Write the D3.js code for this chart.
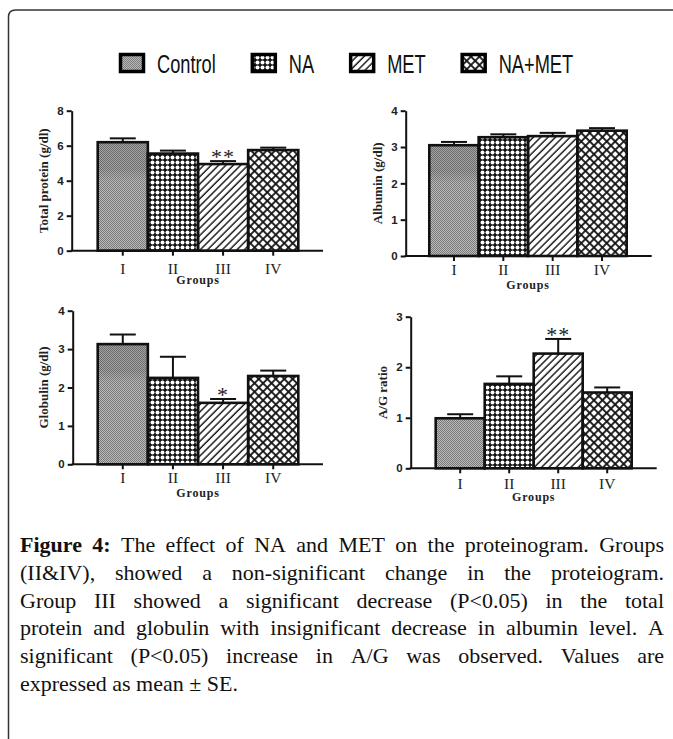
<!DOCTYPE html>
<html>
<head>
<meta charset="utf-8">
<script src="https://cdn.jsdelivr.net/npm/d3@7"></script>
<style>
  html, body { margin: 0; padding: 0; background: #fff; }
  svg { display: block; }
</style>
</head>
<body>
<svg id="mainsvg" width="673" height="739"></svg>
<script>
// data
const groups = ["I", "II", "III", "IV"];
const treatments = ["Control", "NA", "MET", "NA+MET"];

const totalProtein = [6.2, 5.55, 4.95, 5.75];
const totalProteinSE = [0.22, 0.17, 0.17, 0.14];
const totalProteinSig = ["", "", "**", ""];

const albumin = [3.05, 3.27, 3.3, 3.45];
const albuminSE = [0.09, 0.08, 0.09, 0.07];
const albuminSig = ["", "", "", ""];

const globulin = [3.13, 2.25, 1.6, 2.3];
const globulinSE = [0.25, 0.55, 0.1, 0.14];
const globulinSig = ["", "", "*", ""];

const agRatio = [0.99, 1.67, 2.27, 1.5];
const agRatioSE = [0.08, 0.15, 0.29, 0.1];
const agRatioSig = ["", "", "**", ""];

const totalProteinTicks = [0, 2, 4, 6, 8];
const albuminTicks = [0, 1, 2, 3, 4];
const globulinTicks = [0, 1, 2, 3, 4];
const agRatioTicks = [0, 1, 2, 3];

const captionLines = [
  "Figure 4: The effect of NA and MET on the proteinogram. Groups",
  "(II&IV), showed a non-significant change in the proteiogram.",
  "Group III showed a significant decrease (P<0.05) in the total",
  "protein and globulin with insignificant decrease in albumin level. A",
  "significant (P<0.05) increase in A/G was observed. Values are",
  "expressed as mean ± SE."
];

const svg = d3.select("#mainsvg");
const W = +svg.attr("width");
const H = +svg.attr("height");

svg.append("rect").attr("width", W).attr("height", H).attr("fill", "#fff");

// frame: left + top line with rounded corner
svg.append("path")
  .attr("d", `M8.5,${H} L8.5,17 Q8.5,10 15.5,10 L${W},10`)
  .attr("fill", "none")
  .attr("stroke", "#333")
  .attr("stroke-width", 1.5);

// ---- patterns
const defs = svg.append("defs");

const pCtrl = defs.append("pattern").attr("id", "pat-control")
  .attr("patternUnits", "userSpaceOnUse").attr("width", 2).attr("height", 2);
pCtrl.append("rect").attr("width", 2).attr("height", 2).attr("fill", "#bababa");
pCtrl.append("rect").attr("width", 1).attr("height", 1).attr("fill", "#7a7a7a");
pCtrl.append("rect").attr("x", 1).attr("y", 1).attr("width", 1).attr("height", 1).attr("fill", "#7a7a7a");

const pNa = defs.append("pattern").attr("id", "pat-na")
  .attr("patternUnits", "userSpaceOnUse").attr("width", 5).attr("height", 5);
pNa.append("rect").attr("width", 5).attr("height", 5).attr("fill", "#111");
pNa.append("circle").attr("cx", 2.5).attr("cy", 2.5).attr("r", 2.0).attr("fill", "#fff");

const pMet = defs.append("pattern").attr("id", "pat-met")
  .attr("patternUnits", "userSpaceOnUse").attr("width", 5.2).attr("height", 5.2)
  .attr("patternTransform", "rotate(45)");
pMet.append("rect").attr("width", 5.2).attr("height", 5.2).attr("fill", "#fff");
pMet.append("line").attr("x1", 1).attr("x2", 1).attr("y1", 0).attr("y2", 5.2)
  .attr("stroke", "#111").attr("stroke-width", 1.4);

const pNaMet = defs.append("pattern").attr("id", "pat-namet")
  .attr("patternUnits", "userSpaceOnUse").attr("width", 6).attr("height", 6)
  .attr("patternTransform", "rotate(45)");
pNaMet.append("rect").attr("width", 6).attr("height", 6).attr("fill", "#fff");
pNaMet.append("line").attr("x1", 1).attr("x2", 1).attr("y1", 0).attr("y2", 6)
  .attr("stroke", "#111").attr("stroke-width", 1.8);
pNaMet.append("line").attr("y1", 1).attr("y2", 1).attr("x1", 0).attr("x2", 6)
  .attr("stroke", "#111").attr("stroke-width", 1.8);

// darker top band seen on the control bars
const grad = defs.append("linearGradient").attr("id", "ctrl-shade")
  .attr("x1", 0).attr("x2", 0).attr("y1", 0).attr("y2", 1);
grad.append("stop").attr("offset", "0%").attr("stop-color", "#000").attr("stop-opacity", 0.12);
grad.append("stop").attr("offset", "70%").attr("stop-color", "#000").attr("stop-opacity", 0.12);
grad.append("stop").attr("offset", "100%").attr("stop-color", "#000").attr("stop-opacity", 0);

const fills = d3.scaleOrdinal()
  .domain(treatments)
  .range(["url(#pat-control)", "url(#pat-na)", "url(#pat-met)", "url(#pat-namet)"]);

// ---- legend
const legend = svg.append("g");
let lx = 119;
treatments.forEach(t => {
  legend.append("rect")
    .attr("x", lx + 1.5).attr("y", 54.5)
    .attr("width", 23).attr("height", 17)
    .attr("fill", fills(t))
    .attr("stroke", "#000").attr("stroke-width", 3.5);
  const tg = legend.append("g").attr("transform", `translate(${lx + 38},72.5) scale(0.73,1)`);
  const txt = tg.append("text")
    .attr("font-family", "Liberation Sans, Arial, sans-serif")
    .attr("font-size", 25)
    .attr("fill", "#111")
    .text(t);
  lx += 38 + txt.node().getComputedTextLength() * 0.73 + 35;
});

// ---- panels
const panels = [
  { values: totalProtein, se: totalProteinSE, sig: totalProteinSig, ticks: totalProteinTicks,
    label: "Total protein (g/dl)", left: 71.7, right: 323, bars: [97.7, 298.3], y0: 250.7, y1: 110.7,
    labelX: 48, tickPad: 7 },
  { values: albumin, se: albuminSE, sig: albuminSig, ticks: albuminTicks,
    label: "Albumin (g/dl)", left: 405.7, right: 651.7, bars: [429.3, 626.7], y0: 256, y1: 110.7,
    labelX: 381.7, tickPad: 3 },
  { values: globulin, se: globulinSE, sig: globulinSig, ticks: globulinTicks,
    label: "Globulin (g/dl)", left: 72.7, right: 323, bars: [97.7, 298.3], y0: 464.3, y1: 310.7,
    labelX: 48, tickPad: 3 },
  { values: agRatio, se: agRatioSE, sig: agRatioSig, ticks: agRatioTicks,
    label: "A/G ratio", left: 410.7, right: 656.7, bars: [435.7, 631.7], y0: 468.3, y1: 316.7,
    labelX: 386.7, tickPad: 5 }
];

panels.forEach(p => {
  const g = svg.append("g");

  const x = d3.scaleBand().domain(groups).range(p.bars).paddingInner(0).paddingOuter(0);
  const y = d3.scaleLinear().domain([0, d3.max(p.ticks)]).range([p.y0, p.y1]);

  // bars
  const rows = groups.map((grp, i) => ({ grp, t: treatments[i], v: p.values[i], se: p.se[i], sig: p.sig[i] }));

  g.selectAll("rect.bar")
    .data(rows)
    .join("rect")
    .attr("class", "bar")
    .attr("x", d => x(d.grp))
    .attr("y", d => y(d.v))
    .attr("width", x.bandwidth())
    .attr("height", d => y(0) - y(d.v))
    .attr("fill", d => fills(d.t));

  g.selectAll("rect.shade")
    .data(rows.filter(d => d.t === "Control" && y(0) - y(d.v) > 60))
    .join("rect")
    .attr("class", "shade")
    .attr("x", d => x(d.grp))
    .attr("y", d => y(d.v))
    .attr("width", x.bandwidth())
    .attr("height", 38)
    .attr("fill", "url(#ctrl-shade)");

  g.selectAll("rect.outline")
    .data(rows)
    .join("rect")
    .attr("class", "outline")
    .attr("x", d => x(d.grp))
    .attr("y", d => y(d.v))
    .attr("width", x.bandwidth())
    .attr("height", d => y(0) - y(d.v))
    .attr("fill", "none")
    .attr("stroke", "#111")
    .attr("stroke-width", 2.6);

  // error bars (upper only)
  const cx = d => x(d.grp) + x.bandwidth() / 2;
  g.selectAll("line.err")
    .data(rows)
    .join("line")
    .attr("class", "err")
    .attr("x1", cx).attr("x2", cx)
    .attr("y1", d => y(d.v)).attr("y2", d => y(d.v + d.se))
    .attr("stroke", "#111").attr("stroke-width", 2);
  g.selectAll("line.cap")
    .data(rows)
    .join("line")
    .attr("class", "cap")
    .attr("x1", d => cx(d) - 13).attr("x2", d => cx(d) + 13)
    .attr("y1", d => y(d.v + d.se)).attr("y2", d => y(d.v + d.se))
    .attr("stroke", "#111").attr("stroke-width", 2);

  // significance marks
  g.selectAll("text.sig")
    .data(rows.filter(d => d.sig))
    .join("text")
    .attr("class", "sig")
    .attr("x", cx)
    .attr("y", d => y(d.v + d.se) + 3)
    .attr("text-anchor", "middle")
    .attr("font-family", "Liberation Serif, Times New Roman, serif")
    .attr("font-size", 22)
    .attr("letter-spacing", 1)
    .attr("fill", "#222")
    .text(d => d.sig);

  // y axis
  const yAxis = g.append("g")
    .attr("transform", `translate(${p.left},0)`)
    .call(d3.axisLeft(y).tickValues(p.ticks).tickFormat(d3.format("d"))
      .tickSize(5).tickSizeOuter(0).tickPadding(3));
  yAxis.select(".domain").attr("stroke", "#111").attr("stroke-width", 2);
  yAxis.selectAll(".tick line").attr("stroke", "#111").attr("stroke-width", 2);
  yAxis.selectAll(".tick text")
    .attr("font-family", "Liberation Sans, Arial, sans-serif")
    .attr("font-weight", "bold")
    .attr("font-size", 11.5)
    .attr("fill", "#222");

  // x axis
  const xAxis = g.append("g")
    .attr("transform", `translate(0,${p.y0})`)
    .call(d3.axisBottom(x).tickSize(5).tickSizeOuter(0).tickPadding(p.tickPad));
  xAxis.select(".domain").remove();
  xAxis.selectAll(".tick line").attr("stroke", "#111").attr("stroke-width", 2);
  xAxis.selectAll(".tick text")
    .attr("font-family", "Liberation Serif, Times New Roman, serif")
    .attr("font-size", 15.5)
    .attr("fill", "#222");
  g.append("line")
    .attr("x1", p.left - 1).attr("x2", p.right)
    .attr("y1", p.y0).attr("y2", p.y0)
    .attr("stroke", "#111").attr("stroke-width", 2);

  // axis titles
  g.append("text")
    .attr("transform", `translate(${p.labelX},${(p.y0 + p.y1) / 2}) rotate(-90)`)
    .attr("text-anchor", "middle")
    .attr("font-family", "Liberation Serif, Times New Roman, serif")
    .attr("font-weight", "bold")
    .attr("font-size", 13)
    .attr("fill", "#222")
    .text(p.label);

  g.append("text")
    .attr("x", (p.bars[0] + p.bars[1]) / 2)
    .attr("y", p.y0 + 33)
    .attr("text-anchor", "middle")
    .attr("font-family", "Liberation Serif, Times New Roman, serif")
    .attr("font-weight", "bold")
    .attr("font-size", 12)
    .attr("letter-spacing", 0.8)
    .attr("fill", "#222")
    .text("Groups");
});

// ---- caption, justified
const cap = svg.append("g")
  .attr("font-family", "Liberation Serif, Times New Roman, serif")
  .attr("font-size", 22)
  .attr("fill", "#111");
const capLeft = 20, capRight = 664, capTop = 552, capStep = 27.8;

captionLines.forEach((line, li) => {
  const words = line.split(" ");
  const nodes = words.map((w, wi) => cap.append("text")
    .attr("y", capTop + li * capStep)
    .attr("font-weight", li === 0 && wi < 2 ? "bold" : "normal")
    .text(w));
  const widths = nodes.map(n => n.node().getComputedTextLength());
  const last = li === captionLines.length - 1;
  const gap = last ? 5.5 : (capRight - capLeft - d3.sum(widths)) / (words.length - 1);
  let cxp = capLeft;
  nodes.forEach((n, i) => {
    n.attr("x", cxp);
    cxp += widths[i] + gap;
  });
});
</script>
</body>
</html>
